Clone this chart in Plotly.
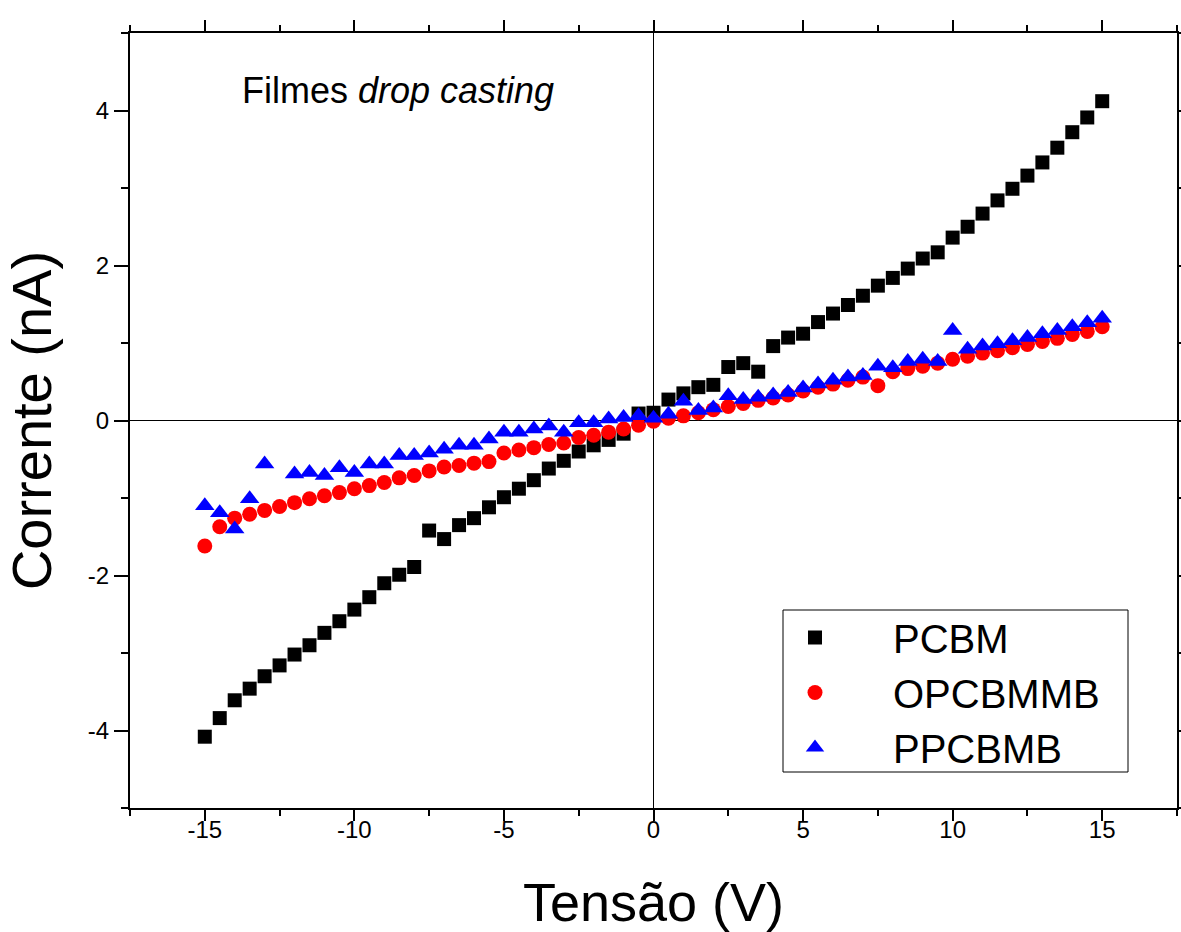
import plotly.graph_objects as go

voltage = [-15.0, -14.5, -14.0, -13.5, -13.0, -12.5, -12.0, -11.5, -11.0, -10.5,
           -10.0, -9.5, -9.0, -8.5, -8.0, -7.5, -7.0, -6.5, -6.0, -5.5,
           -5.0, -4.5, -4.0, -3.5, -3.0, -2.5, -2.0, -1.5, -1.0, -0.5,
           0.0, 0.5, 1.0, 1.5, 2.0, 2.5, 3.0, 3.5, 4.0, 4.5,
           5.0, 5.5, 6.0, 6.5, 7.0, 7.5, 8.0, 8.5, 9.0, 9.5,
           10.0, 10.5, 11.0, 11.5, 12.0, 12.5, 13.0, 13.5, 14.0, 14.5, 15.0]

pcbm = [-4.08, -3.84, -3.61, -3.46, -3.30, -3.16, -3.02, -2.90, -2.74, -2.59,
        -2.44, -2.28, -2.10, -1.99, -1.89, -1.42, -1.53, -1.35, -1.26, -1.12,
        -0.99, -0.88, -0.77, -0.62, -0.52, -0.40, -0.32, -0.25, -0.17, 0.09,
        0.10, 0.27, 0.35, 0.43, 0.46, 0.69, 0.74, 0.63, 0.96, 1.07,
        1.12, 1.27, 1.38, 1.49, 1.61, 1.74, 1.84, 1.96, 2.09, 2.17,
        2.36, 2.50, 2.67, 2.84, 2.99, 3.16, 3.33, 3.52, 3.72, 3.91, 4.12]

opcbmmb = [-1.62, -1.37, -1.26, -1.21, -1.16, -1.11, -1.06, -1.01, -0.97, -0.93,
           -0.88, -0.84, -0.80, -0.74, -0.71, -0.65, -0.60, -0.58, -0.55, -0.53,
           -0.42, -0.38, -0.35, -0.31, -0.29, -0.22, -0.19, -0.15, -0.11, -0.06,
           -0.01, 0.03, 0.06, 0.10, 0.14, 0.18, 0.22, 0.26, 0.29, 0.33,
           0.38, 0.43, 0.47, 0.52, 0.56, 0.45, 0.63, 0.67, 0.70, 0.74,
           0.79, 0.83, 0.87, 0.90, 0.94, 0.98, 1.02, 1.06, 1.11, 1.15, 1.21]

ppcbmb = [-1.10, -1.19, -1.40, -1.01, -0.56, None, -0.69, -0.67, -0.71, -0.61,
          -0.67, -0.56, -0.56, -0.45, -0.45, -0.42, -0.37, -0.32, -0.32, -0.24,
          -0.15, -0.15, -0.11, -0.07, -0.15, -0.03, -0.03, 0.02, 0.04, 0.06,
          0.03, 0.08, 0.25, 0.13, 0.16, 0.32, 0.27, 0.30, 0.33, 0.36,
          0.42, 0.47, 0.52, 0.56, 0.58, 0.70, 0.68, 0.76, 0.79, 0.76,
          1.16, 0.92, 0.96, 0.99, 1.03, 1.07, 1.12, 1.16, 1.21, 1.26, 1.32]

series_names = ["PCBM", "OPCBMMB", "PPCBMB"]
x_ticks = [-15, -10, -5, 0, 5, 10, 15]
y_ticks = [-4, -2, 0, 2, 4]

FONT = "Liberation Sans, Arial, sans-serif"

fig = go.Figure()
fig.add_trace(go.Scatter(x=voltage, y=pcbm, mode="markers", name=series_names[0],
                         legendgroup="a",
                         marker=dict(symbol="square", size=14, color="#000000")))
fig.add_trace(go.Scatter(x=voltage, y=opcbmmb, mode="markers", name=series_names[1],
                         legendgroup="b",
                         marker=dict(symbol="circle", size=15, color="#ff0000")))
fig.add_trace(go.Scatter(x=voltage, y=ppcbmb, mode="markers", name=series_names[2],
                         legendgroup="c",
                         marker=dict(symbol="triangle-up", size=17, color="#0000ff")))

L, R, T, B = 130, 4, 33, 124
W, H = 1181, 932
pw, ph = W - L - R, H - T - B

def px(xp):
    return (xp - L) / pw

def py(yp):
    return (H - B - yp) / ph

fig.add_shape(type="rect", xref="paper", yref="paper",
              x0=px(783), x1=px(1128), y0=py(772), y1=py(610),
              line=dict(color="black", width=1))

fig.add_annotation(xref="paper", yref="paper", x=px(240), y=py(90),
                   xanchor="left", yanchor="middle", showarrow=False,
                   text="Filmes <i>drop casting</i>",
                   font=dict(family=FONT, size=36, color="black"))

fig.update_layout(
    width=W, height=H,
    margin=dict(l=L, r=R, t=T, b=B),
    paper_bgcolor="white", plot_bgcolor="white",
    font=dict(family=FONT, color="black"),
    showlegend=True,
    legend=dict(x=px(737), y=py(605), xanchor="left", yanchor="top",
                bgcolor="rgba(0,0,0,0)", borderwidth=0,
                font=dict(family=FONT, size=40, color="black"),
                tracegroupgap=0, itemwidth=146),
    xaxis=dict(range=[-17.5, 17.5], tickvals=x_ticks, ticktext=[str(v) for v in x_ticks],
               ticks="outside", ticklen=11, tickwidth=2, tickcolor="black",
               minor=dict(dtick=2.5, tick0=0, ticks="outside", ticklen=6, tickwidth=2, tickcolor="black"),
               showline=True, linewidth=2, linecolor="black", mirror="ticks",
               showgrid=False, zeroline=True, zerolinecolor="black", zerolinewidth=1,
               automargin=False, ticklabelstandoff=-12,
               tickfont=dict(family=FONT, size=24),
               title=dict(text="Tensão (V)", font=dict(family=FONT, size=54), standoff=45)),
    yaxis=dict(range=[-5, 5], tickvals=y_ticks, ticktext=[str(v) for v in y_ticks],
               ticks="outside", ticklen=14, tickwidth=2, tickcolor="black",
               minor=dict(dtick=1, tick0=0, ticks="outside", ticklen=7, tickwidth=2, tickcolor="black"),
               showline=True, linewidth=2, linecolor="black", mirror="ticks",
               showgrid=False, zeroline=True, zerolinecolor="black", zerolinewidth=1,
               automargin=False,
               tickfont=dict(family=FONT, size=24),
               title=dict(text="Corrente (nA)", font=dict(family=FONT, size=56), standoff=20)),
)

fig.write_html("out.html")
